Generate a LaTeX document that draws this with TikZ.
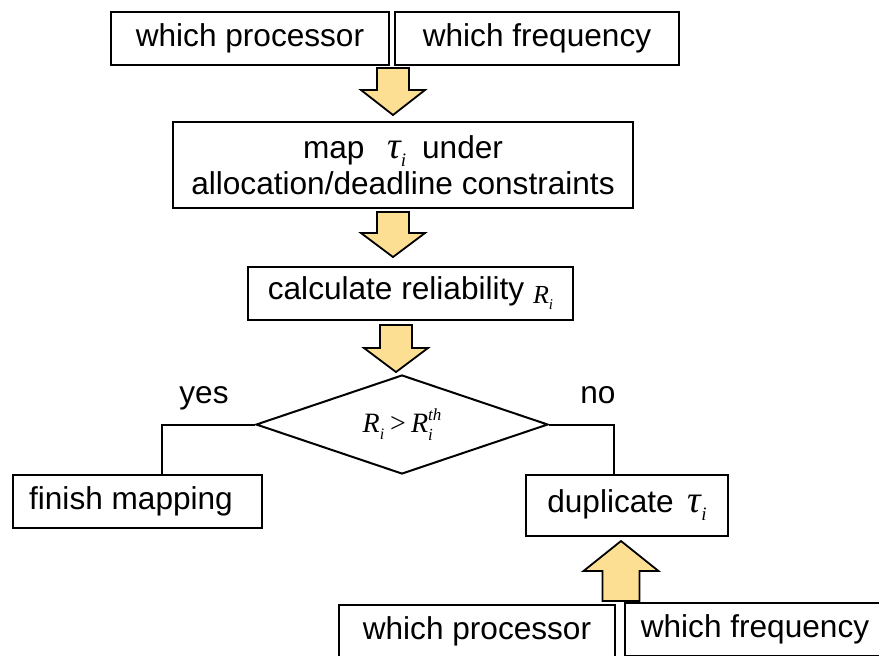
\documentclass[tikz,border=0pt]{standalone}
\usepackage{fontspec}
\setmainfont{Liberation Sans}
\newfontfamily\tnr{Liberation Serif}
\usetikzlibrary{shapes.geometric}
\definecolor{arrowfill}{RGB}{252,223,146}
\newcommand{\mainsize}{\fontsize{15.8}{17.5}\selectfont}
\newcommand{\tauisym}{{\tnr\itshape\fontsize{19}{19}\selectfont τ}\raisebox{-4pt}{\tnr\itshape\fontsize{9.5}{9.5}\selectfont i}}
\newcommand{\blockarrow}[6]{%
  \draw[blockarr] (#1-#5,#2) -- (#1+#5,#2) -- (#1+#5,#3) -- (#1+#6,#3) -- (#1,#4)
    -- (#1-#6,#3) -- (#1-#5,#3) -- cycle;}
\begin{document}
\begin{tikzpicture}[x=0.5pt,y=-0.5pt,
  box/.style={draw, line width=1pt, inner sep=0pt, font=\mainsize, align=center},
  decision/.style={draw, line width=1pt, diamond, inner sep=0pt, aspect=2.95},
  lbl/.style={font=\mainsize, inner sep=0pt, anchor=base},
  conn/.style={line width=1pt},
  blockarr/.style={draw, line width=0.9pt, fill=arrowfill, line join=miter}]
\useasboundingbox (0,0) rectangle (879,655);
\clip (0,0) rectangle (879,655);
\fill[white] (0,0) rectangle (879,655);

% top inputs
\node[box, minimum width=139pt, minimum height=26.5pt] (p1) at (250,38.5) {which processor};
\node[box, minimum width=142pt, minimum height=26.5pt] (f1) at (537,38.5) {which frequency};

% map
\node[box, minimum width=230pt, minimum height=43pt] (map) at (403,165)
  {map\hspace{7pt} \tauisym\hspace{8pt}under\\[0.3pt]allocation/deadline constraints};

% calculate
\node[box, minimum width=162.5pt, minimum height=26.5pt] (calc) at (410.5,293.5)
  {calculate reliability {\tnr\itshape\fontsize{13}{13}\selectfont\raisebox{-2pt}{R}\raisebox{-5pt}{\fontsize{7.5}{7.5}\selectfont i}}};

% decision
\node[decision, minimum width=146pt, minimum height=49.5pt] (d) at (402,424.5)
  {{\tnr\itshape\fontsize{14}{14}\selectfont R\raisebox{-3.5pt}{\fontsize{8}{8}\selectfont i}\hspace{3pt}{\upshape >}\hspace{2.5pt}R\raisebox{-4pt}{\fontsize{8.5}{7}\selectfont\shortstack[l]{th\\[1.5pt]i}}\hspace{2pt}}};

\node[lbl] (yes) at (204,403) {yes};
\node[lbl] (no) at (598,403) {no};

% outcomes
\node[box, minimum width=124.5pt, minimum height=26.5pt] (fin) at (137.5,501.5) {finish mapping\hspace{6.5pt}};
\node[box, minimum width=101pt, minimum height=30.5pt] (dup) at (627,505.5) {duplicate\hspace{7pt}\tauisym};

% bottom inputs
\node[box, minimum width=138pt, minimum height=26.5pt] (p2) at (477,631.5) {which processor};
\node[box, minimum width=130pt, minimum height=26.5pt] (f2) at (755,629.5) {which frequency};

% connectors
\coordinate (lc) at (162,424.5);
\coordinate (rc) at (614,424.5);
\draw[conn] (d.west) -- (lc) -- (lc |- fin.north);
\draw[conn] (d.east) -- (rc) -- (rc |- dup.north);

% block arrows
\blockarrow{393}{68}{90}{115}{16}{32}
\blockarrow{393}{212}{233}{257}{16}{32}
\blockarrow{396}{325}{348}{372}{16}{32}
\blockarrow{621}{601}{571}{541}{18.5}{37.5}
\end{tikzpicture}
\end{document}
